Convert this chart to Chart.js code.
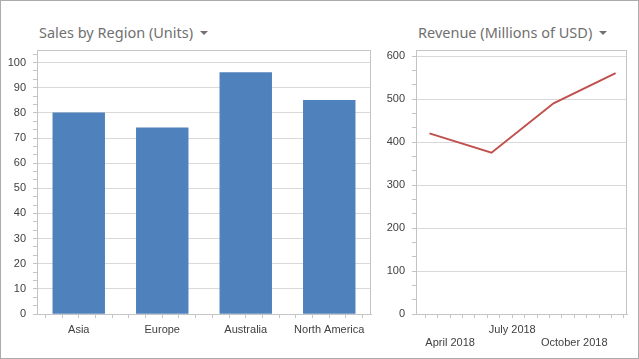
<!DOCTYPE html>
<html>
<head>
<meta charset="utf-8">
<script src="https://cdn.jsdelivr.net/npm/chart.js@4/dist/chart.umd.min.js"></script>
<style>
  html, body { margin: 0; padding: 0; background: #fff; }
  body { width: 639px; height: 359px; position: relative; overflow: hidden; }
  .frame { position: absolute; left: 0; top: 0; width: 639px; height: 359px; box-sizing: border-box;
           border: 1px solid #ababab; pointer-events: none; z-index: 5; }
  .chart { position: absolute; top: 0; height: 359px; }
  .title { position: absolute; top: 22px; font-family: "Segoe UI", "Noto Sans", sans-serif; font-size: 14.5px;
           color: #707070; white-space: nowrap; line-height: 20px; }
  .title .arrow { display: inline-block; width: 0; height: 0; margin-left: 7px; vertical-align: 3px;
                  border-left: 4px solid transparent; border-right: 4px solid transparent; border-top: 4px solid #707070; }
</style>
</head>
<body>
<div class="frame"></div>
<div class="title" style="left:39px">Sales by Region (Units)<span class="arrow"></span></div>
<div class="title" style="left:418px">Revenue (Millions of USD)<span class="arrow"></span></div>
<div class="chart" style="left:0; width:380px"><canvas id="salesChart" width="380" height="359"></canvas></div>
<div class="chart" style="left:380px; width:259px"><canvas id="revenueChart" width="259" height="359"></canvas></div>
<script>
// Sales by region (bar chart)
const regions = ['Asia', 'Europe', 'Australia', 'North America'];
const salesUnits = [80, 74, 96, 85];
const salesTicks = [0, 10, 20, 30, 40, 50, 60, 70, 80, 90, 100];

// Revenue (line chart), x = months since January 2018
const revenueMonths = [2, 5, 8, 11];
const revenueValues = [420, 375, 490, 560];
const revenueTicks = [0, 100, 200, 300, 400, 500, 600];
const monthLabels = { 3: ['', 'April 2018'], 6: 'July 2018', 9: ['', 'October 2018'] };

const tickFont = { family: 'Liberation Sans, Arial, sans-serif', size: 11 };
const tickColor = '#404040';
const gridColor = '#d9d9d9';
const axisColor = '#c4c4c4';

// plot area border on all four sides
const frameBorder = {
    id: 'frameBorder',
    afterDraw(chart) {
        const a = chart.chartArea;
        const ctx = chart.ctx;
        ctx.save();
        ctx.strokeStyle = axisColor;
        ctx.lineWidth = 1;
        ctx.strokeRect(Math.round(a.left) + 0.5, Math.round(a.top) + 0.5,
            Math.round(a.right - a.left) - 1, Math.round(a.bottom - a.top));
        ctx.restore();
    }
};

// major ticks plus `count` minor ticks between them
function withMinor(major, count, max) {
    const step = major[1] - major[0];
    const out = [];
    for (let v = major[0]; v <= max + 1e-9; v += step / (count + 1)) {
        out.push(Math.round(v * 1000) / 1000);
    }
    return out;
}
function isMajor(v, list) {
    return list.some(m => Math.abs(m - v) < 1e-6);
}

const salesMax = 105;
new Chart(document.getElementById('salesChart'), {
    type: 'bar',
    data: {
        datasets: [{
            data: salesUnits.map((v, i) => ({ x: i, y: v })),
            backgroundColor: '#4f81bd',
            borderWidth: 0,
            barThickness: 'flex',
            categoryPercentage: 1,
            barPercentage: 0.62
        }]
    },
    options: {
        responsive: false,
        animation: false,
        events: [],
        layout: { padding: { top: 50, right: 9, left: 0, bottom: 0 } },
        plugins: { legend: { display: false }, tooltip: { enabled: false } },
        scales: {
            x: {
                type: 'linear',
                min: -0.5,
                max: 3.5,
                offset: false,
                afterBuildTicks: (axis) => {
                    const t = [];
                    for (let v = -0.4; v < 3.5; v += 0.2) t.push({ value: Math.round(v * 10) / 10 });
                    axis.ticks = t;
                },
                afterFit: (axis) => { axis.height = 45; },
                grid: { offset: false, drawOnChartArea: false, tickLength: 4, color: axisColor },
                border: { color: axisColor },
                ticks: {
                    autoSkip: false,
                    maxRotation: 0,
                    padding: 5,
                    font: tickFont,
                    color: tickColor,
                    callback: (v) => Number.isInteger(v) ? regions[v] : ''
                }
            },
            y: {
                min: 0,
                max: salesMax,
                afterBuildTicks: (axis) => {
                    axis.ticks = withMinor(salesTicks, 2, salesMax).map(v => ({ value: v }));
                },
                afterFit: (axis) => { axis.width = 37; },
                grid: {
                    tickLength: 4,
                    color: (c) => c.tick && isMajor(c.tick.value, salesTicks) && c.tick.value > 0 ? gridColor : 'rgba(0,0,0,0)',
                    tickColor: axisColor
                },
                border: { color: axisColor },
                ticks: {
                    autoSkip: false,
                    padding: 7,
                    font: tickFont,
                    color: tickColor,
                    callback: (v) => isMajor(v, salesTicks) ? String(v) : ''
                }
            }
        }
    },
    plugins: [frameBorder]
});

const revenueMax = 614;
new Chart(document.getElementById('revenueChart'), {
    type: 'line',
    data: {
        datasets: [{
            data: revenueMonths.map((m, i) => ({ x: m, y: revenueValues[i] })),
            borderColor: '#c0504d',
            borderWidth: 2,
            pointRadius: 0,
            tension: 0,
            fill: false
        }]
    },
    options: {
        responsive: false,
        animation: false,
        events: [],
        layout: { padding: { top: 50, right: 12, left: 0, bottom: 0 } },
        plugins: { legend: { display: false }, tooltip: { enabled: false } },
        scales: {
            x: {
                type: 'linear',
                min: 1.35,
                max: 11.55,
                afterBuildTicks: (axis) => {
                    const t = [];
                    for (let v = 1.8; v < 11.55; v += 0.6) t.push({ value: Math.round(v * 10) / 10 });
                    axis.ticks = t;
                },
                afterFit: (axis) => { axis.height = 45; },
                grid: { drawOnChartArea: false, tickLength: 4, color: axisColor },
                border: { color: axisColor },
                ticks: {
                    autoSkip: false,
                    maxRotation: 0,
                    padding: 5,
                    font: tickFont,
                    color: tickColor,
                    callback: (v) => monthLabels[v] || ''
                }
            },
            y: {
                min: 0,
                max: revenueMax,
                afterBuildTicks: (axis) => {
                    axis.ticks = withMinor(revenueTicks, 2, revenueMax).map(v => ({ value: v }));
                },
                afterFit: (axis) => { axis.width = 36; },
                grid: {
                    tickLength: 4,
                    color: (c) => c.tick && isMajor(c.tick.value, revenueTicks) && c.tick.value > 0 ? gridColor : 'rgba(0,0,0,0)',
                    tickColor: axisColor
                },
                border: { color: axisColor },
                ticks: {
                    autoSkip: false,
                    padding: 7,
                    font: tickFont,
                    color: tickColor,
                    callback: (v) => isMajor(v, revenueTicks) ? String(v) : ''
                }
            }
        }
    },
    plugins: [frameBorder]
});
</script>
</body>
</html>
